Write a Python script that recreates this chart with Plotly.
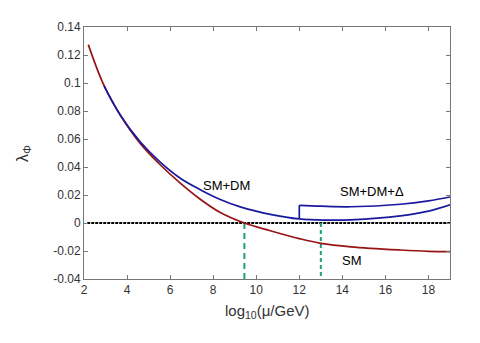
import plotly.graph_objects as go

# values
sm_x = [2.2, 2.9, 3.69, 4.61, 5.54, 6.47, 7.4, 8.33, 9.45, 10.65, 12.04, 13.0, 14.4, 16.7, 18.0, 19.0]
sm_y = [0.1274, 0.0992, 0.077, 0.0569, 0.0416, 0.0285, 0.017, 0.0075, 0.0, -0.0055, -0.0113, -0.0145, -0.0170, -0.0193, -0.0202, -0.0204]

smdm_x = [2.93, 3.69, 4.61, 5.54, 6.47, 7.4, 8.33, 9.26, 10.65, 12.0, 13.3, 14.4, 16.7, 18.0, 19.0]
smdm_y = [0.098, 0.077, 0.058, 0.0435, 0.032, 0.0238, 0.0168, 0.0115, 0.0062, 0.0029, 0.0021, 0.0023, 0.0051, 0.0085, 0.013]

delta_x = [12.0, 13.0, 14.4, 16.7, 18.0, 19.0]
delta_y = [0.0126, 0.012, 0.0116, 0.0134, 0.0158, 0.0186]
jump_x = [12.0, 12.0]
jump_y = [0.0029, 0.0126]

zero_x = [2.15, 19.0]
zero_y = [0.0, 0.0]

cross_sm = 9.45
cross_delta = 13.0
y_bottom = -0.04

x_ticks = [2, 4, 6, 8, 10, 12, 14, 16, 18]
y_ticks = [-0.04, -0.02, 0, 0.02, 0.04, 0.06, 0.08, 0.1, 0.12, 0.14]
y_ticktext = ["-0.04", "-0.02", "0", "0.02", "0.04", "0.06", "0.08", "0.1", "0.12", "0.14"]

red = "rgb(150,20,20)"
blue = "rgb(25,25,160)"
green = "rgb(30,160,120)"

fig = go.Figure()

fig.add_trace(go.Scatter(x=zero_x, y=zero_y, mode="lines",
                         line=dict(color="black", width=2, dash="3px,1px")))
fig.add_trace(go.Scatter(x=[cross_sm, cross_sm], y=[0, y_bottom], mode="lines",
                         line=dict(color=green, width=2, dash="6px,4px")))
fig.add_trace(go.Scatter(x=[cross_delta, cross_delta], y=[0, y_bottom], mode="lines",
                         line=dict(color=green, width=2, dash="4px,3px")))
fig.add_trace(go.Scatter(x=sm_x, y=sm_y, mode="lines", line=dict(color=red, width=1.7, shape="spline")))
fig.add_trace(go.Scatter(x=smdm_x, y=smdm_y, mode="lines", line=dict(color=blue, width=1.7, shape="spline")))
fig.add_trace(go.Scatter(x=jump_x, y=jump_y, mode="lines", line=dict(color=blue, width=1.7)))
fig.add_trace(go.Scatter(x=delta_x, y=delta_y, mode="lines", line=dict(color=blue, width=1.7, shape="spline")))

font = "Liberation Sans, Arial, sans-serif"
labels = [("SM+DM", 8.6, 0.0265), ("SM+DM+Δ", 15.4, 0.0223), ("SM", 14.45, -0.0266)]
for txt, lx, ly in labels:
    fig.add_annotation(x=lx, y=ly, text=txt, showarrow=False,
                       font=dict(family=font, size=13, color="black"))

# axis titles
fig.add_annotation(xref="paper", yref="paper", x=0.5, y=-0.129, xanchor="center", yanchor="middle",
                   text="log<sub>10</sub>(μ/GeV)", showarrow=False,
                   font=dict(family=font, size=15, color="#333"))
fig.add_annotation(xref="paper", yref="paper", x=-0.167, y=0.5, xanchor="center", yanchor="middle",
                   textangle=-90, text="λ<sub>Φ</sub>", showarrow=False,
                   font=dict(family=font, size=16, color="#333"))

axis_common = dict(showgrid=False, zeroline=False, showline=True, linecolor="#777",
                   linewidth=1, mirror="ticks", ticks="inside", ticklen=4,
                   tickcolor="#777", tickfont=dict(family=font, size=12, color="#333"))

fig.update_xaxes(range=[2, 19], tickvals=x_ticks, **axis_common)
fig.update_yaxes(range=[-0.04, 0.14], tickvals=y_ticks, ticktext=y_ticktext, **axis_common)

# page body adds an 8px offset, so the figure is a bit smaller than the window
fig.update_layout(width=472, height=335, showlegend=False,
                  margin=dict(l=76, r=30, t=16, b=64),
                  plot_bgcolor="white", paper_bgcolor="white")

fig.write_html("out.html")
